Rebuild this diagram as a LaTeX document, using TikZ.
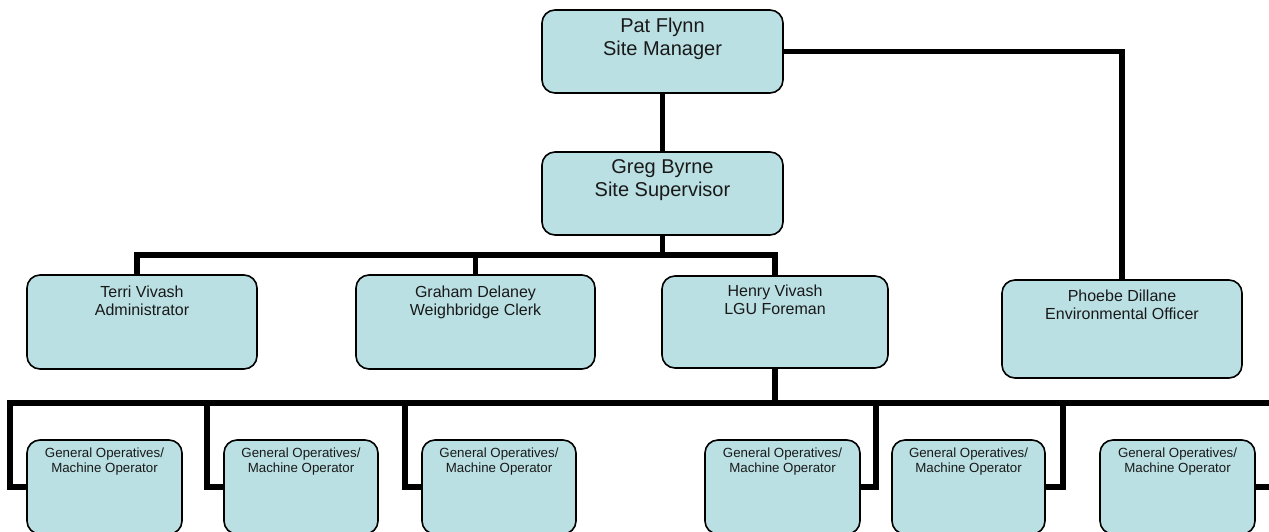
\documentclass[tikz,border=0pt]{standalone}
\usepackage{fontspec}
\setmainfont{Liberation Sans}
\definecolor{boxfill}{RGB}{186,224,227}
\definecolor{txtcol}{RGB}{25,25,25}
\pgfdeclarelayer{background}
\pgfsetlayers{background,main}
\begin{document}
\begin{tikzpicture}[x=1pt,y=-1pt,
  box/.style={draw=black, line width=1.6pt, fill=boxfill, rounded corners=13pt, inner sep=0pt},
  link/.style={draw=black, line width=5.5pt, line join=miter},
  bigtxt/.style={anchor=north, inner sep=0pt, align=center, text=txtcol, font=\fontsize{20pt}{23pt}\selectfont},
  midtxt/.style={anchor=north, inner sep=0pt, align=center, text=txtcol, font=\fontsize{16pt}{17.5pt}\selectfont},
  smalltxt/.style={anchor=north, inner sep=0pt, align=center, text=txtcol, font=\fontsize{13.3pt}{15pt}\selectfont}]
\useasboundingbox (0,0) rectangle (1269,531);
\clip (0,0) rectangle (1269,531);

% boxes
\node[box, minimum width=241pt, minimum height=83pt] (pat) at (662.5,51.5) {};
\node[box, minimum width=241pt, minimum height=83pt] (greg) at (662.5,193.5) {};
\node[box, minimum width=230pt, minimum height=94pt] (terri) at (142,322) {};
\node[box, minimum width=239pt, minimum height=94pt] (graham) at (475.5,322) {};
\node[box, minimum width=226pt, minimum height=92pt] (henry) at (775,322) {};
\node[box, minimum width=240pt, minimum height=98pt] (phoebe) at (1122,329) {};
\node[box, minimum width=155pt, minimum height=94pt] (b1) at (104.5,487) {};
\node[box, minimum width=154pt, minimum height=94pt] (b2) at (301,487) {};
\node[box, minimum width=154pt, minimum height=94pt] (b3) at (499,487) {};
\node[box, minimum width=155pt, minimum height=94pt] (b4) at (782.5,487) {};
\node[box, minimum width=153pt, minimum height=94pt] (b5) at (968.5,487) {};
\node[box, minimum width=155pt, minimum height=94pt] (b6) at (1177.5,487) {};

% texts
\node[bigtxt] (patT) at ([yshift=-8.5pt]pat.north) {Pat Flynn\\Site Manager};
\node[bigtxt] (gregT) at ([yshift=-8.5pt]greg.north) {Greg Byrne\\Site Supervisor};
\node[midtxt] (terriT) at ([yshift=-11.5pt]terri.north) {Terri Vivash\\Administrator};
\node[midtxt] (grahamT) at ([yshift=-11.5pt]graham.north) {Graham Delaney\\Weighbridge Clerk};
\node[midtxt] (henryT) at ([yshift=-9.5pt]henry.north) {Henry Vivash\\LGU Foreman};
\node[midtxt] (phoebeT) at ([yshift=-10.5pt]phoebe.north) {Phoebe Dillane\\Environmental Officer};
\foreach \b in {b1,b2,b3,b4,b5,b6}{
  \node[smalltxt] (\b T) at ([yshift=-8.5pt]\b.north) {General Operatives/\\Machine Operator};
}

% connectors
\coordinate (j1) at (662.5,255);
\coordinate (j2) at (775,403);
\coordinate (t1) at (10,403);
\coordinate (t2) at (207,403);
\coordinate (t3) at (405,403);
\coordinate (t4) at (876,403);
\coordinate (t5) at (1063,403);
\coordinate (t6) at (1272,403);
\begin{pgfonlayer}{background}
\draw[link] (pat) -- (greg);
\draw[link] (pat.east) -| (phoebe.north);
\draw[link] (greg.south) -- (j1);
\draw[link] ([xshift=-5pt]terri.north) |- (j1) -| (henry.north);
\draw[link] (graham.north) -- (graham.north |- j1);
\draw[link] (henry.south) -- (j2);
\draw[link] (b1.west) -| (t1) -- (t6) |- (b6.east);
\draw[link] (b2.west) -| (t2);
\draw[link] (b3.west) -| (t3);
\draw[link] (b4.east) -| (t4);
\draw[link] (b5.east) -| (t5);
\end{pgfonlayer}
\end{tikzpicture}
\end{document}
